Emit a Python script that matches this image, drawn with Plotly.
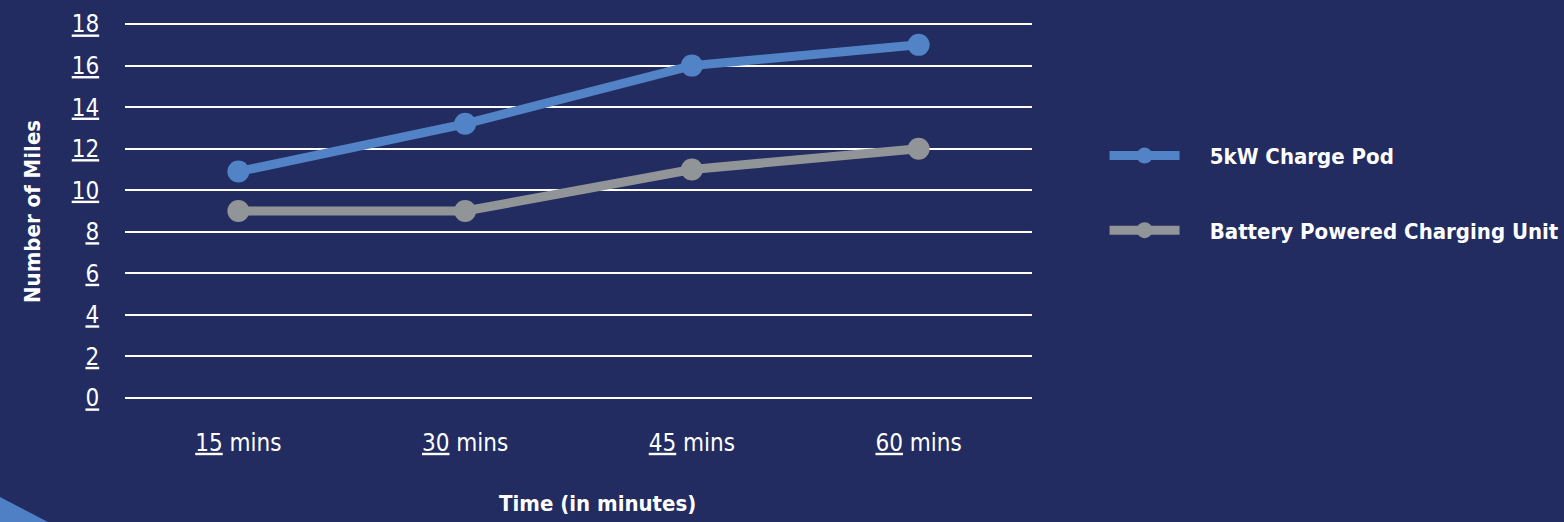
import plotly.graph_objects as go

categories = ["15", "30", "45", "60"]
tick_labels = ["<u>15</u> mins", "<u>30</u> mins", "<u>45</u> mins", "<u>60</u> mins"]
pod_values = [10.9, 13.2, 16.0, 17.0]
battery_values = [9.0, 9.0, 11.0, 12.0]
y_ticks = [0, 2, 4, 6, 8, 10, 12, 14, 16, 18]
y_tick_labels = [f"<u>{v}</u>" for v in y_ticks]

BG = "#222c60"
BLUE = "#5183c6"
GRAY = "#929598"
FONT = "Liberation Sans Narrow, DejaVu Sans Condensed, Roboto Condensed, Roboto"
PAD = "\u00a0" * 4

fig = go.Figure()
fig.add_trace(go.Scatter(
    x=categories, y=pod_values, mode="lines+markers", name=PAD + "<b>5kW Charge Pod</b>",
    line=dict(color=BLUE, width=9), marker=dict(color=BLUE, size=22),
    legendgroup="a", cliponaxis=False,
))
fig.add_trace(go.Scatter(
    x=categories, y=battery_values, mode="lines+markers", name=PAD + "<b>Battery Powered Charging Unit</b>",
    line=dict(color=GRAY, width=9), marker=dict(color=GRAY, size=22),
    legendgroup="b", cliponaxis=False,
))

fig.update_layout(
    width=1564, height=522,
    paper_bgcolor=BG, plot_bgcolor=BG,
    margin=dict(l=125, r=532, t=22, b=124, autoexpand=False),
    font=dict(family=FONT, color="white", size=24),
    showlegend=True,
    legend=dict(
        x=1.08, y=0.70, xanchor="left", yanchor="top",
        traceorder="grouped", tracegroupgap=43,
        itemwidth=70, font=dict(size=22, color="white"),
        bgcolor="rgba(0,0,0,0)",
    ),
    xaxis=dict(
        type="category", range=[-0.5, 3.5],
        tickmode="array", tickvals=categories, ticktext=tick_labels,
        showgrid=False, zeroline=False, showline=False,
        ticks="outside", ticklen=23, tickcolor="rgba(0,0,0,0)",
        tickfont=dict(size=24),
    ),
    yaxis=dict(
        range=[0, 18.1], tickmode="array", tickvals=y_ticks, ticktext=y_tick_labels,
        showgrid=True, gridcolor="white", gridwidth=2,
        zeroline=True, zerolinecolor="white", zerolinewidth=2,
        showline=False,
        ticks="outside", ticklen=20, tickcolor="rgba(0,0,0,0)",
        tickfont=dict(size=24),
    ),
    annotations=[
        dict(text="<b>Number of Miles</b>", x=(33 - 125) / 907, xref="paper",
             y=(398 - 212) / 376, yref="paper",
             textangle=-90, showarrow=False, font=dict(size=22),
             xanchor="center", yanchor="middle"),
        dict(text="<b>Time (in minutes)</b>", x=(597 - 125) / 907, xref="paper",
             y=(398 - 503) / 376, yref="paper",
             showarrow=False, font=dict(size=22), xanchor="center", yanchor="middle"),
    ],
)

fig.add_shape(type="path", xref="paper", yref="paper",
              path=f"M {(0-125)/907} {(398-497)/376} L {(48-125)/907} {(398-522)/376} L {(0-125)/907} {(398-522)/376} Z",
              fillcolor="#4f7fc4", line=dict(width=0), layer="below")

fig.write_html("out.html")
